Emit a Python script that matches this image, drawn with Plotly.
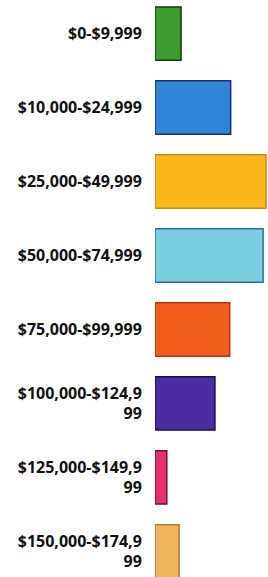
import plotly.graph_objects as go

categories = ["$0-$9,999", "$10,000-$24,999", "$25,000-$49,999", "$50,000-$74,999",
              "$75,000-$99,999", "$100,000-$124,999", "$125,000-$149,999", "$150,000-$174,999"]
tick_labels = ["$0-$9,999", "$10,000-$24,999", "$25,000-$49,999", "$50,000-$74,999",
               "$75,000-$99,999", "$100,000-$124,9<br>99", "$125,000-$149,9<br>99", "$150,000-$174,9<br>99"]
values = [5.3, 15.4, 22.6, 22.0, 15.2, 12.2, 2.4, 4.9]
colors = ["#3d9c2e", "#2f86d8", "#fcb81a", "#7acfe0", "#f0601c", "#4c2ca2", "#e6306a", "#f0b45c"]
edge_colors = ["#163812", "#1a2f78", "#c98a12", "#2d6c9c", "#c42e0c", "#1c0d52", "#6a1434", "#b07a30"]

fig = go.Figure(go.Bar(
    y=categories,
    x=values,
    orientation="h",
    marker=dict(color=colors, line=dict(color=edge_colors, width=1.5)),
    hoverinfo="x+y",
))

fig.update_layout(
    width=268, height=577,
    margin=dict(l=155, r=0, t=0, b=0, autoexpand=False),
    paper_bgcolor="white", plot_bgcolor="white",
    bargap=0.28,
    showlegend=False,
    font=dict(family="Open Sans", color="#111111"),
)
fig.update_xaxes(range=[0, 23.0], visible=False, fixedrange=True, automargin=False)
fig.update_yaxes(
    categoryorder="array", categoryarray=categories,
    tickvals=categories, ticktext=tick_labels,
    range=[7.345, -0.453],
    automargin=False,
    showgrid=False, zeroline=False, showline=False,
    ticks="outside", ticklen=9, tickcolor="rgba(0,0,0,0)",
    tickfont=dict(family="Open Sans", size=16, color="#111111", weight="bold"),
    fixedrange=True,
)

fig.write_html(
    "out.html",
    config={"displayModeBar": False},
    post_script="document.body.style.margin='0';document.body.style.overflow='hidden';",
)
